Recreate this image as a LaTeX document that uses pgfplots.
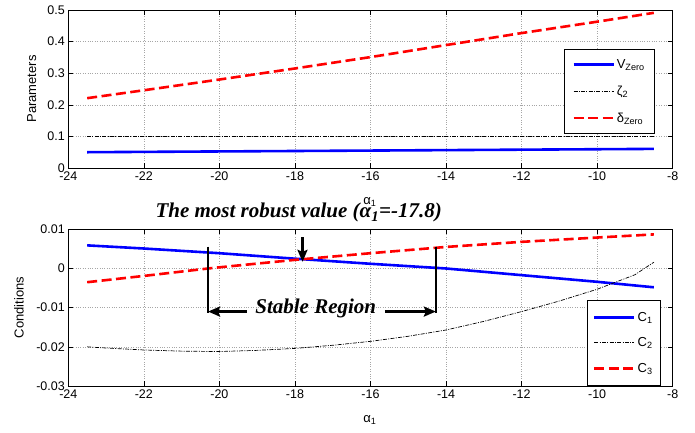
\documentclass[border=0pt]{standalone}
\usepackage{fontspec}
\setmainfont{Liberation Sans}
\newfontfamily\timesfont{Liberation Serif}
\usepackage{pgfplots}
\pgfplotsset{compat=1.18}
\usetikzlibrary{arrows.meta}

\pgfplotstableread{
x y
-23.5 0.0500
-16 0.0552
-8.5 0.0605
}\vzero
\pgfplotstableread{
x y
-23.5 0.1
-8.5 0.1
}\zetatwo
\pgfplotstableread{
x y
-23.5 0.221
-22 0.246
-20 0.280
-18 0.315
-16 0.351
-14 0.389
-12 0.427
-10 0.463
-8.5 0.491
}\deltazero
\pgfplotstableread{
x y
-23.5 0.0059
-22 0.0051
-20 0.0039
-18 0.0025
-16 0.0012
-14 0.0000
-12 -0.0017
-10 -0.0034
-8.5 -0.0048
}\cone
\pgfplotstableread{
x y
-23.5 -0.0200
-23 -0.0203
-22 -0.0208
-21 -0.0211
-20 -0.0212
-19 -0.0209
-18 -0.0204
-17 -0.0196
-16 -0.0186
-15 -0.0173
-14 -0.0157
-13 -0.0135
-12 -0.0110
-11 -0.0083
-10 -0.0053
-9 -0.0016
-8.5 0.0016
}\ctwo
\pgfplotstableread{
x y
-23.5 -0.0035
-22 -0.0019
-20.3 0.0000
-20 0.0003
-18 0.0022
-16 0.0039
-14 0.0055
-12 0.0068
-10 0.0079
-8.5 0.0087
}\cthree

\begin{document}
\begin{tikzpicture}
\useasboundingbox (0pt,0pt) rectangle (695pt,-432pt);
\pgfplotsset{
  every axis/.append style={
    scale only axis, width=604.4pt,
    xmin=-24, xmax=-8,
    xtick={-24,-22,-20,-18,-16,-14,-12,-10,-8},
    xticklabels={-24,-22,-20,-18,-16,-14,-12,-10,-8},
    scaled y ticks=false, scaled x ticks=false,
    grid=major,
    major grid style={dotted, line width=0.6pt, black!35},
    tick align=inside,
    xtick pos=both, ytick pos=both,
    major tick length=5pt,
    axis line style={line width=0.8pt},
    tick style={line width=0.6pt, black},
    tick label style={font=\fontsize{12.5}{14}\selectfont},
    label style={font=\fontsize{13}{15}\selectfont},
    legend cell align=left,
    legend image code/.code={\draw[#1] (0pt,0pt) -- (40pt,0pt);},
    clip=false,
  },
  vline/.style={blue, line width=2.6pt},
  dline/.style={black, line width=0.7pt, dash pattern=on 4pt off 1.3pt on 1pt off 1.3pt},
  rline/.style={red, line width=2.6pt, dash pattern=on 10pt off 4.5pt},
}
\begin{axis}[
  at={(68.3pt,-168pt)}, anchor=south west,
  height=158pt,
  ymin=0, ymax=0.5,
  ytick={0,0.1,0.2,0.3,0.4,0.5},
  yticklabels={0,0.1,0.2,0.3,0.4,0.5},
  ylabel={Parameters},
  ylabel style={at={(axis description cs:-0.0606,0.5)}, anchor=center},
  xlabel={α\textsubscript{1}},
  xlabel style={at={(axis description cs:0.499,-0.215)}, anchor=center},
  legend style={at={(0.9707,0.753)}, anchor=north east, draw=black, line width=0.6pt,
    fill=white, font=\fontsize{13}{15}\selectfont, row sep=12pt, inner xsep=8pt, inner ysep=8pt},
]
\addplot[vline] table {\vzero};
\addlegendentry{V\textsubscript{Zero}}
\addplot[dline] table {\zetatwo};
\addlegendentry{ζ\textsubscript{2}}
\addplot[rline] table {\deltazero};
\addlegendentry{δ\textsubscript{Zero}}
\end{axis}

\begin{axis}[
  at={(68.3pt,-386pt)}, anchor=south west,
  height=156.7pt,
  ymin=-0.03, ymax=0.01,
  ytick={-0.03,-0.02,-0.01,0,0.01},
  yticklabels={-0.03,-0.02,-0.01,0,0.01},
  ylabel={Conditions},
  ylabel style={at={(axis description cs:-0.0816,0.5)}, anchor=center},
  xlabel={α\textsubscript{1}},
  xlabel style={at={(axis description cs:0.499,-0.217)}, anchor=center},
  legend style={at={(0.9806,0)}, anchor=south east, draw=black, line width=0.6pt,
    fill=white, font=\fontsize{13}{15}\selectfont, row sep=11pt, inner xsep=6pt, inner ysep=10pt},
]
\addplot[vline] table {\cone};
\addlegendentry{C\textsubscript{1}}
\addplot[dline] table {\ctwo};
\addlegendentry{C\textsubscript{2}}
\addplot[rline] table {\cthree};
\addlegendentry{C\textsubscript{3}}

\node[font=\timesfont\bfseries\itshape\fontsize{21}{24}\selectfont, anchor=base]
  at (axis cs:-17.9,0.0129) {The most robust value (α\textsubscript{1}=-17.8)};
\draw[-{Stealth[length=12pt,width=10pt,inset=2pt]}, line width=2.4pt]
  (axis cs:-17.8,0.0080) -- (axis cs:-17.8,0.0017);
\draw[line width=2.4pt] (axis cs:-20.3,0.0056) -- (axis cs:-20.3,-0.0114);
\draw[line width=2.4pt] (axis cs:-14.27,0.0056) -- (axis cs:-14.27,-0.0114);
\draw[-{Stealth[length=12pt,width=10pt,inset=2pt]}, line width=2.4pt]
  (axis cs:-19.28,-0.0110) -- (axis cs:-20.3,-0.0110);
\draw[-{Stealth[length=12pt,width=10pt,inset=2pt]}, line width=2.4pt]
  (axis cs:-15.62,-0.0110) -- (axis cs:-14.27,-0.0110);
\node[font=\timesfont\bfseries\itshape\fontsize{21}{24}\selectfont, anchor=base]
  at (axis cs:-17.45,-0.0116) {Stable Region};
\end{axis}
\end{tikzpicture}
\end{document}
